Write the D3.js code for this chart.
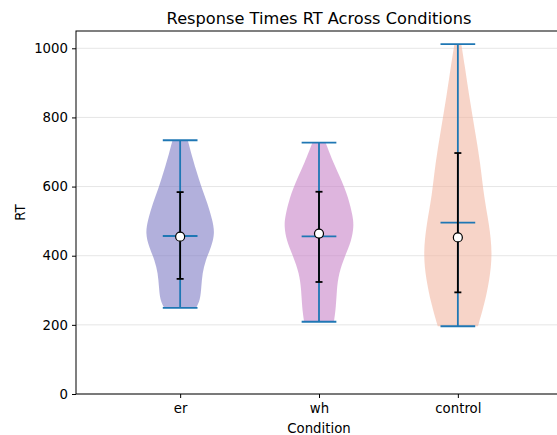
<!DOCTYPE html>
<html>
<head>
<meta charset="utf-8">
<script src="https://cdn.jsdelivr.net/npm/d3@7"></script>
<style>
  html, body { margin: 0; padding: 0; background: #fff; }
  svg { display: block; font-family: "DejaVu Sans", sans-serif; }
</style>
</head>
<body>
<svg id="chart" width="557" height="435"></svg>
<script>
// Data
const categories = ['er', 'wh', 'control'];
const maxRT = [734, 727, 1012];
const minRT = [249, 209, 196];
const medianRT = [457, 456, 496];
const meanRT = [455, 464, 453];
const errLow = [333, 324, 294];
const errHigh = [584, 585, 697];
const yTicks = [0, 200, 400, 600, 800, 1000];

// violin outline: RT level and relative half-width (1 = widest)
const erRT = [249, 272, 310, 349, 387, 426, 465, 503, 551, 599, 647, 695, 734];
const erWidth = [0.46, 0.58, 0.61, 0.64, 0.73, 0.9, 1.0, 0.93, 0.79, 0.61, 0.46, 0.32, 0.22];
const whRT = [209, 252, 301, 349, 397, 445, 484, 512, 570, 618, 667, 727];
const whWidth = [0.43, 0.49, 0.51, 0.57, 0.74, 0.94, 1.0, 0.98, 0.84, 0.65, 0.42, 0.19];
const controlRT = [196, 262, 329, 406, 493, 570, 667, 763, 859, 955, 1012];
const controlWidth = [0.58, 0.77, 0.91, 1.0, 0.9, 0.75, 0.65, 0.49, 0.33, 0.19, 0.1];

const profiles = [
  { rt: erRT, w: erWidth },
  { rt: whRT, w: whWidth },
  { rt: controlRT, w: controlWidth }
];
const fills = ['rgb(127,123,197)', 'rgb(200,132,200)', 'rgb(242,183,163)'];

const margin = { top: 31, right: -5, bottom: 41, left: 76 },
  width = 557 - margin.left - margin.right,
  height = 435 - margin.top - margin.bottom;

const svg = d3.select('#chart');
const g = svg.append('g').attr('transform', `translate(${margin.left},${margin.top})`);

const x = d3.scaleLinear().domain([0.25, 3.75]).range([0, width]);
const y = d3.scaleLinear().domain([0, 1050]).range([height, 0]);
const halfW = x(1.25) - x(1);

// grid
g.selectAll('.grid')
  .data(yTicks)
  .enter().append('line')
  .attr('x1', 0).attr('x2', width)
  .attr('y1', d => y(d)).attr('y2', d => y(d))
  .attr('stroke', '#e6e6e6').attr('stroke-width', 1);

// violins
categories.forEach((c, i) => {
  const cx = x(i + 1);
  const pts = profiles[i].rt.map((v, k) => ({ v: v, w: profiles[i].w[k] }));
  const area = d3.area()
    .y(d => y(d.v))
    .x0(d => cx - d.w * halfW)
    .x1(d => cx + d.w * halfW)
    .curve(d3.curveBasis);
  g.append('path')
    .datum(pts)
    .attr('d', area)
    .attr('fill', fills[i])
    .attr('fill-opacity', 0.6);
});

// blue stats lines
const blue = '#1f77b4';
categories.forEach((c, i) => {
  const cx = x(i + 1);
  const cap = halfW / 2;
  g.append('line')
    .attr('x1', cx).attr('x2', cx)
    .attr('y1', y(minRT[i])).attr('y2', y(maxRT[i]))
    .attr('stroke', blue).attr('stroke-width', 1.8);
  [minRT[i], maxRT[i], medianRT[i]].forEach(v => {
    g.append('line')
      .attr('x1', cx - cap).attr('x2', cx + cap)
      .attr('y1', y(v)).attr('y2', y(v))
      .attr('stroke', blue).attr('stroke-width', 1.8);
  });
});

// error bars + mean marker
categories.forEach((c, i) => {
  const cx = x(i + 1);
  g.append('line')
    .attr('x1', cx).attr('x2', cx)
    .attr('y1', y(errLow[i])).attr('y2', y(errHigh[i]))
    .attr('stroke', '#000').attr('stroke-width', 1.8);
  [errLow[i], errHigh[i]].forEach(v => {
    g.append('line')
      .attr('x1', cx - 3.5).attr('x2', cx + 3.5)
      .attr('y1', y(v)).attr('y2', y(v))
      .attr('stroke', '#000').attr('stroke-width', 1.8);
  });
  g.append('circle')
    .attr('cx', cx).attr('cy', y(meanRT[i]))
    .attr('r', 4.5)
    .attr('fill', '#fff').attr('stroke', '#000').attr('stroke-width', 1.2);
});

// axes
const xAxis = g.append('g')
  .attr('transform', `translate(0,${height})`)
  .call(d3.axisBottom(x).tickValues([1, 2, 3]).tickFormat((d, i) => categories[i]).tickSize(4).tickPadding(6));
const yAxis = g.append('g')
  .call(d3.axisLeft(y).tickValues(yTicks).tickFormat(d3.format('d')).tickSize(4).tickPadding(4));
[xAxis, yAxis].forEach(a => {
  a.select('.domain').remove();
  a.selectAll('text').attr('font-size', 13.3).attr('fill', '#000').attr('font-family', '"DejaVu Sans", sans-serif');
  a.selectAll('line').attr('stroke', '#000');
});

// frame
g.append('rect')
  .attr('x', 0).attr('y', 0).attr('width', width).attr('height', height)
  .attr('fill', 'none').attr('stroke', '#000').attr('stroke-width', 1);

// labels
svg.append('text')
  .attr('x', margin.left + width / 2).attr('y', 24)
  .attr('text-anchor', 'middle').attr('font-size', 16.2)
  .text('Response Times RT Across Conditions');
svg.append('text')
  .attr('x', margin.left + width / 2).attr('y', 433)
  .attr('text-anchor', 'middle').attr('font-size', 13.3)
  .text('Condition');
svg.append('text')
  .attr('transform', `translate(25,${margin.top + height / 2}) rotate(-90)`)
  .attr('text-anchor', 'middle').attr('font-size', 13.3)
  .text('RT');
</script>
</body>
</html>
